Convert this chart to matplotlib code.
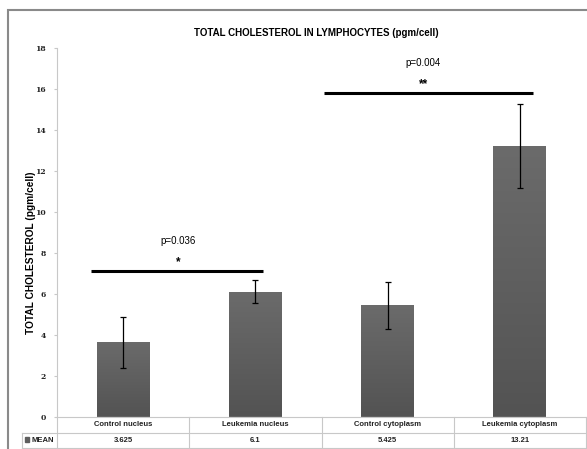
import matplotlib
matplotlib.use("Agg")
import matplotlib.pyplot as plt
import numpy as np
from matplotlib.patches import Rectangle
from matplotlib.lines import Line2D
from matplotlib.transforms import blended_transform_factory
from matplotlib.colors import LinearSegmentedColormap

categories = ["Control nucleus", "Leukemia nucleus", "Control cytoplasm", "Leukemia cytoplasm"]
means = [3.625, 6.1, 5.425, 13.21]
mean_labels = ["3.625", "6.1", "5.425", "13.21"]
errors = [1.25, 0.56, 1.14, 2.07]
yticks = [0, 2, 4, 6, 8, 10, 12, 14, 16, 18]
sig_x0 = [-0.24, 1.516]
sig_x1 = [1.057, 3.10]
sig_xtext = [0.416, 2.27]
sig_heights = [7.09, 15.8]
sig_stars = ["*", "**"]
sig_pvals = ["p=0.036", "p=0.004"]

W, H = 587, 449
fig = plt.figure(figsize=(W/100, H/100), dpi=100)
fig.patch.set_facecolor("white")

def fx(px):
    return px / W

def fy(py):
    return 1 - py / H

ax = fig.add_axes([fx(57), fy(416.5), fx(586) - fx(57), fy(48) - fy(416.5)])
x = np.arange(len(categories))
bars = ax.bar(x, means, width=0.4, color="#5e5e5e", zorder=2)
grad = np.linspace(0, 1, 256).reshape(-1, 1)
cmap = LinearSegmentedColormap.from_list("g", ["#535353", "#6b6b6b"])
for b in bars:
    im = ax.imshow(grad, extent=[b.get_x(), b.get_x() + b.get_width(), 0, b.get_height()],
                   origin="lower", cmap=cmap, aspect="auto", zorder=2.5)
    im.set_clip_path(b)
ax.set_aspect("auto")
ax.set_xlim(-0.5, 3.5)
ax.set_ylim(0, 18)
ax.errorbar(x, means, yerr=errors, fmt="none", ecolor="black", elinewidth=0.9,
            capsize=2, capthick=0.9, zorder=3)

for sp in ["top", "right"]:
    ax.spines[sp].set_visible(False)
ax.spines["left"].set_color("#c8c8c8")
ax.spines["bottom"].set_color("#c8c8c8")
ax.spines["left"].set_linewidth(0.8)
ax.spines["bottom"].set_linewidth(0.8)
ax.set_xticks([])
ax.set_yticks(yticks)
ax.set_yticklabels([str(v) for v in yticks], fontfamily="DejaVu Serif", fontweight="bold",
                   fontsize=5.5, color="#222222")
ax.tick_params(axis="y", length=2, color="#c8c8c8", pad=6)

# significance bars
for x0, x1, xt, h, s, p in zip(sig_x0, sig_x1, sig_xtext, sig_heights, sig_stars, sig_pvals):
    ax.plot([x0, x1], [h, h], color="black", lw=2.2, solid_capstyle="butt", zorder=4, clip_on=False)
    ax.text(xt, h + 0.45, s, ha="center", va="center", fontsize=8.5, fontfamily="Liberation Sans",
            fontweight="bold")
    ax.text(xt, h + 1.48, p, ha="center", va="center", fontsize=7, fontfamily="Liberation Sans")

# title and ylabel
fig.text(fx(316), fy(33), "TOTAL CHOLESTEROL IN LYMPHOCYTES (pgm/cell)", ha="center", va="center",
         fontsize=7, fontweight="bold", fontfamily="Liberation Sans")
fig.text(fx(31), fy(253), "TOTAL CHOLESTEROL (pgm/cell)", ha="center", va="center", rotation=90,
         fontsize=7.3, fontweight="bold", fontfamily="Liberation Sans")

# data table
tr = blended_transform_factory(ax.transData, fig.transFigure)
lc = "#c8c8c8"
row_top, row_mid, row_bot = 416.5, 432.5, 447.5
edges = [-0.5, 0.5, 1.5, 2.5, 3.5]
fig.add_artist(Line2D([fx(22), fx(586)], [fy(row_mid), fy(row_mid)], color=lc, lw=0.8))
fig.add_artist(Line2D([fx(22), fx(586)], [fy(row_bot), fy(row_bot)], color=lc, lw=0.8))
fig.add_artist(Line2D([fx(22), fx(22)], [fy(row_mid), fy(row_bot)], color=lc, lw=0.8))
for e in edges:
    fig.add_artist(Line2D([e, e], [fy(row_top), fy(row_bot)], color=lc, lw=0.8, transform=tr))
for xi, c, m in zip(x, categories, mean_labels):
    fig.text(xi, fy((row_top + row_mid) / 2), c, transform=tr, ha="center", va="center",
             fontsize=5.5, fontfamily="Liberation Sans", fontweight="bold", color="#222222")
    fig.text(xi, fy((row_mid + row_bot) / 2), m, transform=tr, ha="center", va="center",
             fontsize=5.5, fontfamily="Liberation Sans", fontweight="bold", color="#222222")
fig.add_artist(Rectangle((fx(25), fy(442)), fx(4), fy(437) - fy(442), color="#5e5e5e",
                         transform=fig.transFigure))
fig.text(fx(31), fy((row_mid + row_bot) / 2), "MEAN", ha="left", va="center", fontsize=5.5,
         fontfamily="Liberation Sans", fontweight="bold", color="#222222")

# outer frame
fig.add_artist(Rectangle((fx(8), -0.1), 1.2, fy(10) + 0.1, fill=False, edgecolor="#8a8a8a",
                         lw=1.5, transform=fig.transFigure))

fig.savefig("out.png", dpi=100, facecolor="white")
